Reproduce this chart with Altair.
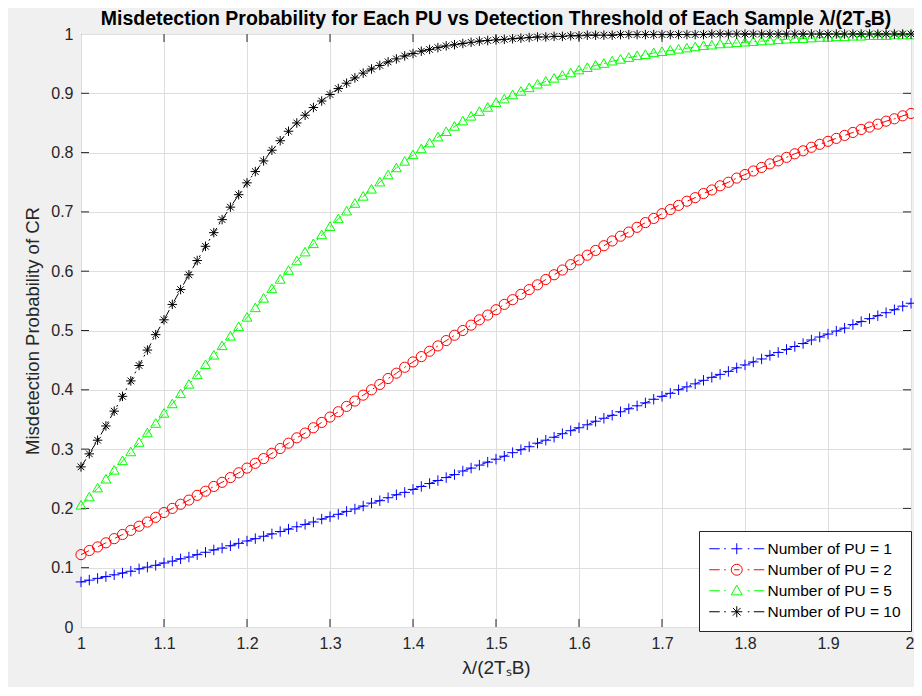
import altair as alt
import pandas as pd

# ---------------- data ----------------
x_vals = [1.00, 1.01, 1.02, 1.03, 1.04, 1.05, 1.06, 1.07, 1.08, 1.09,
          1.10, 1.11, 1.12, 1.13, 1.14, 1.15, 1.16, 1.17, 1.18, 1.19,
          1.20, 1.21, 1.22, 1.23, 1.24, 1.25, 1.26, 1.27, 1.28, 1.29,
          1.30, 1.31, 1.32, 1.33, 1.34, 1.35, 1.36, 1.37, 1.38, 1.39,
          1.40, 1.41, 1.42, 1.43, 1.44, 1.45, 1.46, 1.47, 1.48, 1.49,
          1.50, 1.51, 1.52, 1.53, 1.54, 1.55, 1.56, 1.57, 1.58, 1.59,
          1.60, 1.61, 1.62, 1.63, 1.64, 1.65, 1.66, 1.67, 1.68, 1.69,
          1.70, 1.71, 1.72, 1.73, 1.74, 1.75, 1.76, 1.77, 1.78, 1.79,
          1.80, 1.81, 1.82, 1.83, 1.84, 1.85, 1.86, 1.87, 1.88, 1.89,
          1.90, 1.91, 1.92, 1.93, 1.94, 1.95, 1.96, 1.97, 1.98, 1.99,
          2.00]

pu1 = [0.076, 0.079, 0.082, 0.085, 0.088, 0.091, 0.094, 0.098, 0.101, 0.104,
       0.108, 0.111, 0.115, 0.118, 0.122, 0.126, 0.130, 0.133, 0.137, 0.141,
       0.145, 0.149, 0.153, 0.157, 0.161, 0.165, 0.169, 0.173, 0.177, 0.182,
       0.186, 0.190, 0.195, 0.199, 0.204, 0.209, 0.213, 0.218, 0.223, 0.227,
       0.232, 0.237, 0.242, 0.247, 0.252, 0.257, 0.263, 0.268, 0.273, 0.278,
       0.283, 0.288, 0.294, 0.299, 0.304, 0.310, 0.315, 0.320, 0.326, 0.331,
       0.336, 0.341, 0.347, 0.352, 0.357, 0.363, 0.368, 0.373, 0.378, 0.384,
       0.389, 0.394, 0.400, 0.405, 0.410, 0.416, 0.421, 0.426, 0.431, 0.437,
       0.442, 0.447, 0.452, 0.458, 0.463, 0.468, 0.473, 0.478, 0.484, 0.489,
       0.494, 0.499, 0.504, 0.510, 0.515, 0.520, 0.525, 0.530, 0.535, 0.541,
       0.546]

pu2 = [0.122, 0.129, 0.135, 0.142, 0.149, 0.156, 0.163, 0.170, 0.177, 0.185,
       0.193, 0.200, 0.207, 0.214, 0.222, 0.229, 0.237, 0.244, 0.252, 0.260,
       0.268, 0.276, 0.284, 0.293, 0.301, 0.310, 0.319, 0.327, 0.336, 0.345,
       0.354, 0.363, 0.372, 0.381, 0.391, 0.400, 0.409, 0.419, 0.428, 0.438,
       0.447, 0.456, 0.465, 0.474, 0.483, 0.492, 0.500, 0.509, 0.518, 0.526,
       0.535, 0.544, 0.552, 0.561, 0.569, 0.577, 0.586, 0.594, 0.602, 0.611,
       0.619, 0.627, 0.635, 0.643, 0.651, 0.659, 0.666, 0.674, 0.682, 0.689,
       0.697, 0.704, 0.711, 0.718, 0.724, 0.731, 0.737, 0.744, 0.750, 0.757,
       0.763, 0.769, 0.775, 0.781, 0.786, 0.792, 0.798, 0.803, 0.809, 0.814,
       0.819, 0.824, 0.829, 0.834, 0.839, 0.843, 0.848, 0.853, 0.857, 0.862,
       0.866]

pu5 = [0.205, 0.219, 0.234, 0.249, 0.264, 0.280, 0.295, 0.311, 0.327, 0.343,
       0.360, 0.376, 0.393, 0.409, 0.425, 0.442, 0.458, 0.474, 0.490, 0.506,
       0.522, 0.538, 0.554, 0.570, 0.586, 0.601, 0.617, 0.632, 0.646, 0.661,
       0.675, 0.688, 0.701, 0.714, 0.726, 0.738, 0.750, 0.762, 0.774, 0.785,
       0.796, 0.806, 0.816, 0.826, 0.835, 0.844, 0.853, 0.861, 0.869, 0.876,
       0.884, 0.890, 0.897, 0.903, 0.909, 0.915, 0.920, 0.925, 0.930, 0.934,
       0.939, 0.943, 0.947, 0.950, 0.954, 0.957, 0.960, 0.963, 0.965, 0.968,
       0.970, 0.972, 0.974, 0.976, 0.978, 0.980, 0.981, 0.983, 0.984, 0.985,
       0.986, 0.987, 0.988, 0.989, 0.990, 0.991, 0.992, 0.992, 0.993, 0.994,
       0.994, 0.995, 0.995, 0.996, 0.996, 0.997, 0.997, 0.997, 0.998, 0.998,
       0.998]

pu10 = [0.270, 0.292, 0.315, 0.339, 0.364, 0.389, 0.415, 0.441, 0.467, 0.493,
        0.518, 0.544, 0.569, 0.594, 0.618, 0.642, 0.665, 0.687, 0.708, 0.729,
        0.749, 0.768, 0.786, 0.804, 0.820, 0.836, 0.850, 0.863, 0.876, 0.887,
        0.898, 0.908, 0.917, 0.926, 0.934, 0.941, 0.947, 0.953, 0.958, 0.963,
        0.967, 0.971, 0.974, 0.977, 0.980, 0.982, 0.984, 0.986, 0.988, 0.989,
        0.990, 0.991, 0.992, 0.993, 0.994, 0.995, 0.995, 0.996, 0.996, 0.997,
        0.997, 0.998, 0.998, 0.998, 0.998, 0.999, 0.999, 0.999, 0.999, 0.999,
        0.999, 0.999, 0.999, 0.999, 0.999, 0.999, 1.000, 1.000, 1.000, 1.000,
        1.000, 1.000, 1.000, 1.000, 1.000, 1.000, 1.000, 1.000, 1.000, 1.000,
        1.000, 1.000, 1.000, 1.000, 1.000, 1.000, 1.000, 1.000, 1.000, 1.000,
        1.000]

series_names = ["Number of PU = 1", "Number of PU = 2",
                "Number of PU = 5", "Number of PU = 10"]
x_ticks = [1.0, 1.1, 1.2, 1.3, 1.4, 1.5, 1.6, 1.7, 1.8, 1.9, 2.0]
y_ticks = [0.0, 0.1, 0.2, 0.3, 0.4, 0.5, 0.6, 0.7, 0.8, 0.9, 1.0]

# ---------------- styling ----------------
FONT = "Liberation Sans"
TXT = "#262626"
colors = ["#0000ff", "#ff0000", "#00ff00", "#000000"]

# plot markers (custom paths are scaled by sqrt(size)/2)
plus = "M-1,0L1,0M0,-1L0,1"
tri = "M0,-1L1,0.75L-1,0.75Z"
star = "M-1,0L1,0M0,-1L0,1M-0.7,-0.7L0.7,0.7M-0.7,0.7L0.7,-0.7"
marker_shapes = [plus, "circle", tri, star]
marker_sizes = [110, 90, 105, 120]

# legend symbols: dash-dot line sample with the marker in the middle
ldash_l = "M-5,0L-3.1,0M-2.3,0L-2,0"
ldash_r = "M2,0L2.3,0M3.1,0L5,0"
circ = "M1,0A1,1,0,1,1,-1,0A1,1,0,1,1,1,0M-0.5,0L0.5,0"
legend_shapes = [ldash_l + plus + ldash_r,
                 ldash_l + circ + ldash_r,
                 ldash_l + tri + ldash_r,
                 ldash_l + star + ldash_r]

rows = []
for name, vals in zip(series_names, [pu1, pu2, pu5, pu10]):
    for xv, yv in zip(x_vals, vals):
        rows.append({"x": xv, "y": yv, "series": name})
df = pd.DataFrame(rows)

# inward box ticks (MATLAB style), on all four sides
TLX = 8 / 830
TLY = 8 / 593
tick_rows = []
for t in x_ticks[1:-1]:
    tick_rows.append({"x": t, "x2": t, "y": 0.0, "y2": TLY})
    tick_rows.append({"x": t, "x2": t, "y": 1.0 - TLY, "y2": 1.0})
for t in y_ticks[1:-1]:
    tick_rows.append({"x": 1.0, "x2": 1.0 + TLX, "y": t, "y2": t})
    tick_rows.append({"x": 2.0 - TLX, "x2": 2.0, "y": t, "y2": t})
ticks_df = pd.DataFrame(tick_rows)

xscale = alt.Scale(domain=[1, 2], nice=False, zero=False)
yscale = alt.Scale(domain=[0, 1], nice=False, zero=False)
XTITLE = "λ/(2TₛB)"
YTITLE = "Misdetection Probability of CR"

xaxis = alt.Axis(values=x_ticks, format=".1~f", title=XTITLE, grid=True,
                 ticks=False, domain=False, labelPadding=8, titlePadding=7,
                 titleFontSize=19,
                 labelAlign={"condition": {"test": "datum.value >= 2", "value": "right"},
                             "value": "center"},
                 labelOffset={"condition": {"test": "datum.value >= 2", "value": 3},
                              "value": 0})
yaxis = alt.Axis(values=y_ticks, format=".1~f", title=YTITLE, grid=True,
                 ticks=False, domain=False, labelPadding=8, titlePadding=8,
                 titleFontSize=18.5)

X = alt.X("x:Q", scale=xscale, axis=xaxis)
Y = alt.Y("y:Q", scale=yscale, axis=yaxis)

cscale = alt.Scale(domain=series_names, range=colors)

lines = alt.Chart(df).mark_line(strokeWidth=1, strokeDash=[9, 4, 2, 4]).encode(
    x=X, y=Y,
    color=alt.Color("series:N", scale=cscale, legend=None),
)

points = alt.Chart(df).mark_point(filled=False, strokeWidth=1, opacity=1).encode(
    x=X, y=Y,
    color=alt.Color("series:N", scale=cscale, legend=None),
    shape=alt.Shape("series:N", scale=alt.Scale(domain=series_names, range=marker_shapes), legend=None),
    size=alt.Size("series:N", scale=alt.Scale(domain=series_names, range=marker_sizes), legend=None),
)

leg = alt.Legend(
    title=None, orient="none", legendX=618, legendY=497, direction="vertical",
    fillColor="white", strokeColor=TXT, padding=10,
    symbolSize=121, symbolStrokeWidth=1, symbolOffset=20, labelOffset=23,
    symbolOpacity=1,
    labelFont=FONT, labelFontSize=15.5, labelColor="#000000", rowPadding=4,
    labelLimit=300,
)

legend_layer = alt.Chart(df).mark_point(filled=False, strokeWidth=1, opacity=0).encode(
    x=X, y=Y,
    color=alt.Color("series:N", scale=cscale, legend=leg),
    shape=alt.Shape("series:N", scale=alt.Scale(domain=series_names, range=legend_shapes), legend=leg),
)

tick_layer = alt.Chart(ticks_df).mark_rule(color=TXT, strokeWidth=1).encode(
    x=X, x2="x2:Q", y=Y, y2="y2:Q"
)

chart = alt.layer(tick_layer, lines, points, legend_layer).resolve_scale(
    color="independent", shape="independent", size="independent"
).properties(
    width=830, height=593,
    autosize=alt.AutoSizeParams(type="none"),
    padding={"left": 73, "top": 26, "right": 3, "bottom": 60},
    background="#f0f0f0",
    title=alt.Title(
        "Misdetection Probability for Each PU vs Detection Threshold of Each Sample λ/(2TₛB)",
        font=FONT, fontSize=19.5, fontWeight="bold", color="#000000",
        anchor="middle", offset=0, dy=3,
    ),
).configure_view(
    fill="white", stroke=TXT, strokeWidth=1
).configure_axis(
    labelFont=FONT, labelFontSize=16, labelColor=TXT,
    titleFont=FONT, titleFontWeight="normal", titleColor=TXT,
    gridColor="#dedede", gridWidth=1,
)

chart.save("out.html", embed_options={"renderer": "svg", "actions": False})
